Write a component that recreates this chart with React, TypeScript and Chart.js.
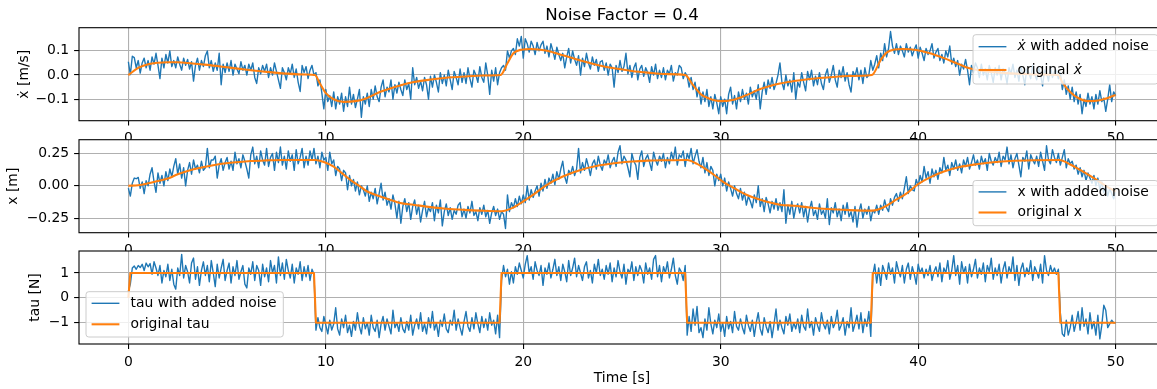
import React, { useEffect, useRef } from 'react';
import { Chart, registerables } from 'chart.js';

Chart.register(...registerables);

// ---------------- data ----------------
const SAMPLE_STEP = 0.1; // seconds between noisy samples
const X_TICKS = [0, 10, 20, 30, 40, 50];
const VEL_TICKS = [-0.1, 0, 0.1];
const POS_TICKS = [-0.25, 0, 0.25];
const TAU_TICKS = [-1, 0, 1];
const MAIN_TITLE = 'Noise Factor = 0.4';

const VEL_NOISY = [
  .055, .002, .078, .072, .03, .06, .008, .05, .07, .03,
  .06, .02, .075, .045, .09, .04, -.015, .07, .03, .085,
  .05, .1, .035, .06, .03, .075, .045, .02, .07, .04,
  .065, .025, .055, -.025, .04, .07, .02, .06, .035, .08,
  .1, .03, .06, .015, .05, .02, .09, -.04, .045, .01,
  .05, .015, .06, 0, .045, .025, .005, .055, .02, .04,
  0, .045, .02, .05, -.01, -.035, .03, .005, .04, .015,
  .045, -.01, .03, 0, .05, .015, -.02, -.055, .03, .01,
  -.02, .03, .005, .045, -.01, .025, -.03, -.068, .04, .01,
  .035, -.015, .02, .04, 0, .01, -.045, -.02, -.075, -.14,
  -.06, -.11, -.085, -.13, -.07, -.14, -.09, -.12, -.075, -.15,
  -.09, -.13, -.05, -.12, -.08, -.135, -.1, -.06, -.175, -.09,
  -.12, -.075, -.13, -.06, -.1, -.045, -.09, -.11, -.05, -.02,
  -.09, -.05, -.07, -.02, -.1, -.04, -.075, -.03, -.06, -.085,
  -.02, -.06, -.035, -.1, .03, -.04, -.01, -.055, -.025, -.065,
  -.01, -.04, -.1, -.005, -.05, 0, -.03, -.07, .01, -.035,
  0, -.045, .02, -.02, -.06, .015, -.01, -.04, .025, -.03,
  .01, -.035, .03, -.015, -.05, .02, 0, -.03, .035, -.01,
  -.03, .05, 0, -.08, .02, -.025, .03, -.04, .01, .03,
  .04, .02, .1, .07, .1, .11, .085, .15, .12, .16,
  .07, .15, .13, .095, .14, .12, .085, .135, .1, .125,
  .14, .09, .12, .075, .13, .1, .065, .115, .085, .06,
  .09, .03, .075, .11, .05, .1, .065, .04, .08, 0,
  .07, .035, .09, .05, .025, .075, .04, .065, .015, .055,
  .06, .02, .05, 0, .045, .03, -.05, .04, .01, .06,
  .015, .035, .09, .005, .04, -.01, .03, .05, -.02, .025,
  .04, -.005, .03, .01, -.03, .035, 0, .045, -.015, .02,
  -.01, .03, -.02, .02, .005, .04, -.025, .01, 0, .04,
  .03, -.015, .01, -.005, -.05, -.01, -.06, -.03, -.09, -.05,
  -.12, -.07, -.11, -.06, -.13, -.09, -.14, -.08, -.115, -.16,
  -.09, -.13, -.1, -.16, -.08, -.05, -.12, -.085, -.14, -.07,
  -.11, -.06, -.1, -.075, -.12, -.05, -.09, -.065, -.1, -.04,
  -.14, -.07, -.03, -.08, -.02, -.055, -.01, -.06, -.035, 0,
  .05, -.03, -.06, 0, -.045, -.02, -.07, .01, -.1, -.03,
  -.05, .01, -.03, -.065, .015, -.02, .02, -.045, -.005, -.04,
  .01, -.035, -.06, 0, .025, -.03, 0, .04, -.02, -.05,
  .02, -.01, .035, -.025, .01, -.04, -.07, .015, -.005, .03,
  -.02, .02, -.035, .03, -.01, 0, .06, .02, .045, .08,
  .03, .09, .06, .13, .075, .11, .18, .12, .09, .13,
  .085, .12, .1, .075, .13, .095, .115, .08, .105, .125,
  .07, .115, .09, .06, .11, .085, .1, .13, .07, .095,
  .11, .06, .085, .05, .1, .075, .12, .045, .07, .035,
  .06, 0, .045, .025, .065, .02, -.04, .04, .01, .05,
  .03, -.01, .045, 0, .025, -.02, .04, .01, -.03, .03,
  0, .04, -.02, .025, .01, -.035, .03, .005, .045, -.01,
  .02, -.025, .035, 0, -.04, .025, .01, -.015, .04, .005,
  -.02, .03, 0, -.045, .02, .01, -.025, .035, -.01, .015,
  .02, -.015, .01, -.06, -.02, -.08, -.045, -.1, -.05, -.11,
  -.07, -.12, -.08, -.16, -.1, -.13, -.075, -.12, -.09, -.14,
  -.08, -.12, -.065, -.11, -.095, -.15, -.1, -.04, -.11, -.07,
  -.085,
];
const VEL_ORIG_T = [0, 0.5, 1, 1.5, 2, 2.5, 3, 4, 5, 6, 7, 8, 9, 9.45, 9.7, 10, 10.4, 10.9, 11.5, 12, 12.8, 13.8, 14.4, 15, 16, 17, 18, 18.85, 19.2, 19.5, 19.9, 20.4, 21.2, 22, 22.9, 23.7, 24.6, 25.5, 26.3, 27.2, 28.2, 28.6, 29, 29.4, 30, 30.6, 31.3, 32, 33, 33.7, 34.5, 35.4, 36.5, 37.65, 38.1, 38.4, 38.8, 39.2, 39.9, 40.6, 41.3, 42, 42.6, 43.5, 44.5, 45.5, 46.3, 47.1, 47.3, 47.7, 48.1, 48.6, 49.2, 50];
const VEL_ORIG = [0, .03, .045, .051, .053, .053, .05, .042, .032, .022, .013, .006, .002, 0, -.035, -.075, -.1, -.111, -.108, -.098, -.068, -.042, -.03, -.022, -.012, -.006, -.002, 0, .049, .09, .105, .108, .101, .082, .06, .043, .028, .017, .01, .004, 0, -.042, -.08, -.097, -.108, -.103, -.083, -.058, -.035, -.025, -.016, -.01, -.004, 0, .062, .093, .106, .108, .104, .09, .07, .047, .028, .015, .008, .004, .002, 0, -.03, -.07, -.095, -.108, -.104, -.083];

const POS_NOISY = [
  -.018, -.08, .02, .06, .055, .065, -.02, .03, -.06, .04,
  0, .09, .14, .03, -.05, .1, .02, .08, 0, .11,
  .04, .13, .07, .15, .21, .09, .17, .06, .14, 0,
  .12, .18, .09, .2, .13, .16, .1, .19, .12, .14,
  .29, .14, .2, .2, .23, .06, .16, .21, .12, .18,
  .22, .13, .19, .12, .26, .17, .21, .14, .24, .19,
  .13, .06, .24, .3, .17, .23, .14, .27, .2, .16,
  .29, .15, .22, .25, .12, .26, .18, .3, .16, .23,
  .13, .27, .19, .24, .12, .28, .17, .22, .29, .14,
  .23, .16, .27, .2, .29, .17, .23, .14, .26, .2,
  .22, .12, .26, .17, .2, .08, .15, .13, .04, .12,
  .1, -.03, .08, 0, .05, -.04, .03, -.07, 0, -.03,
  -.08, 0, -.12, -.05, -.1, -.02, -.14, -.06, .02, -.11,
  -.05, -.15, -.1, -.18, -.07, -.14, -.25, -.12, -.29, -.16,
  -.1, -.2, -.13, -.26, -.16, -.11, -.22, -.15, -.28, -.19,
  -.12, -.24, -.17, -.2, -.13, -.27, -.15, -.21, -.11, -.31,
  -.2, -.14, -.23, -.17, -.26, -.19, -.22, -.15, -.13, -.24,
  -.18, -.25, -.16, -.21, -.12, -.23, -.2, -.27, -.17, -.22,
  -.15, -.24, -.19, -.29, -.21, -.16, -.23, -.18, -.26, -.2,
  -.22, -.33, -.07, -.2, -.13, -.17, -.1, -.16, -.08, -.14,
  -.07, -.13, 0, -.11, -.03, -.09, -.04, 0, -.08, .02,
  -.04, .05, -.02, .06, .02, .09, .01, .11, .05, .13,
  .19, .07, .02, .12, .09, .15, .08, .13, .29, .1,
  .18, .12, .21, .15, .08, .17, .2, .13, .23, .16,
  .12, .2, .17, .24, .14, .19, .22, .15, .26, .31,
  .17, .23, .2, .14, .07, .25, .19, .16, .05, .22,
  .27, .15, .21, .24, .18, .12, .26, .2, .16, .23,
  .19, .25, .14, .22, .17, .26, .2, .3, .16, .24,
  .22, .27, .15, .25, .21, .29, .17, .23, .28, .19,
  .14, .22, .1, .18, .08, .15, .12, 0, .09, .04,
  .09, 0, .06, -.04, .03, -.02, -.08, 0, -.06, -.1,
  -.02, -.11, -.05, -.15, -.08, -.12, -.17, -.07, -.13, 0,
  -.16, -.1, -.2, -.09, -.14, -.21, -.12, -.18, -.1, -.19,
  -.13, -.2, -.03, -.29, -.15, -.22, -.12, -.25, -.17, -.14,
  -.21, -.13, -.24, -.16, -.28, -.18, -.12, -.23, -.19, -.26,
  -.14, -.22, -.19, -.25, -.1, -.3, -.17, -.21, -.13, -.24,
  -.18, -.27, -.15, -.22, -.13, -.24, -.2, -.28, -.16, -.32,
  -.2, -.14, -.25, -.18, -.22, -.16, -.27, -.19, -.21, -.15,
  -.22, -.15, -.19, -.11, -.17, -.2, -.1, -.15, -.09, -.06,
  -.12, -.05, -.1, -.02, .07, -.06, 0, -.03, -.04, .05,
  0, .08, .03, .15, .06, .11, .02, .13, .07, .12,
  .05, .14, .1, .22, .12, .16, .08, .18, .13, .2,
  .12, .17, .1, .2, .15, .22, .13, .18, .24, .16,
  .2, .13, .23, .17, .21, .12, .25, .19, .16, .22,
  .18, .26, .15, .23, .2, .3, .17, .24, .14, .21,
  .25, .16, .07, .22, .19, .27, .13, .24, .2, .17,
  .23, .15, .26, .19, .12, .31, .2, .17, .28, .22,
  .18, .25, .16, .22, .28, .14, .21, .17, .19, .13,
  .16, .09, .14, .07, .12, .04, .1, .06, .02, .08,
  0, .06, -.03, .03, -.05, 0, -.08, -.02, -.06, -.1,
  -.03,
];
const POS_ORIG_T = [0, 0.5, 1, 1.5, 2, 2.5, 3, 3.65, 4.5, 5.3, 6.2, 7, 7.85, 9.45, 9.9, 10.4, 10.8, 11.24, 11.7, 12.1, 12.76, 13.77, 14.43, 15.2, 16.1, 17, 17.8, 18.9, 19.4, 20, 20.6, 21.2, 22, 22.9, 23.7, 24.6, 25.5, 26.3, 27.2, 28.3, 28.8, 29.3, 29.7, 30.1, 30.7, 31.3, 32, 33, 33.7, 34.5, 35.4, 36.5, 37.7, 38.2, 38.75, 39.4, 40, 40.6, 41.3, 42.1, 42.95, 43.8, 44.65, 45.9, 47.15, 47.7, 48.2, 48.9, 49.5, 50];
const POS_ORIG = [0, .005, .02, .038, .056, .09, .115, .14, .165, .18, .192, .197, .2, .2, .185, .149, .1, .046, 0, -.044, -.082, -.133, -.146, -.163, -.177, -.186, -.192, -.197, -.175, -.12, -.058, .008, .072, .123, .153, .174, .188, .195, .198, .2, .17, .123, .08, .033, -.02, -.069, -.108, -.146, -.154, -.168, -.18, -.188, -.192, -.17, -.12, -.06, .013, .065, .11, .145, .167, .182, .192, .198, .2, .165, .123, .059, 0, -.045];

const TAU_NOISY = [
  .26, .55, 1.2, 1.28, 1.15, 1.3, 1.22, 1.35, 1.1, 1.4,
  1.25, 1.38, .95, 1.45, 1.2, .9, 1.3, .6, 1.1, .85,
  1.35, .7, 1.15, .55, .35, 1.2, .9, 1.75, .8, 1.3,
  1.05, .6, 1.4, 1.6, .75, 1.25, .5, 1.1, 1.45, .9,
  1.3, .65, 1.5, 1.0, .45, 1.35, .8, 1.2, 1.55, .7,
  1.1, 1.4, .6, 1.25, .9, 1.5, .75, 1.05, 1.3, .55,
  .4, 1.2, .95, 1.45, .7, 1.3, 1.1, .5, 1.35, .85,
  1.2, .65, 1.5, 1.0, 1.3, .6, 1.65, .9, 1.4, .75,
  1.55, 1.1, .8, 1.35, .6, 1.2, .95, 1.45, .7, 1.25,
  .85, 1.3, .7, 1.15, .95, -1.3, -.8, -1.2, -1.35, -.75,
  -1.1, -1.45, -.9, -1.3, -1.05, -.4, -1.25, -1.5, -.85, -1.2,
  -.7, -1.4, -1.1, -1.55, -.95, -1.3, -.6, -1.15, -1.45, -.8,
  -1.25, -1.0, -1.5, -.7, -1.2, -1.35, -.9, -1.6, -1.05, -.75,
  -1.3, -.85, -1.15, -1.45, -.5, -1.2, -1.0, -1.35, -.8, -1.25,
  -1.4, -.95, -1.3, -.7, -1.5, -1.1, -.85, -1.25, -.6, -1.35,
  -1.05, -1.45, -.8, -1.2, -.55, -1.3, -1.0, -1.55, -.9, -1.15,
  -.65, -1.25, -1.4, -.9, -1.1, -.5, -1.3, -.85, -1.2, -1.5,
  -.95, -.55, -1.15, -1.35, -.8, -1.25, -.6, -1.05, -1.4, -.75,
  -1.2, -.85, -1.3, -.6, -1.1, -.9, -1.45, -.7, -1.6, .7,
  1.3, .85, 1.15, .55, 1.05, .6, 1.25, .95, 1.4, 1.1,
  .8, 1.35, 1.7, 1.0, 1.25, .75, 1.45, 1.1, .9, 1.3,
  .5, 1.2, .95, 1.4, .8, 1.15, 1.55, .9, 1.25, .7,
  1.35, 1.05, .65, 1.5, .9, 1.2, 1.6, .85, 1.3, 1.0,
  .7, 1.25, 1.45, .8, 1.1, .6, 1.35, 1.0, 1.55, .9,
  1.15, .75, 1.3, .95, 1.4, .65, 1.2, .85, 1.5, 1.05,
  .8, 1.35, .55, 1.15, 1.0, 1.45, .7, 1.25, .9, 1.3,
  1.1, .6, 1.4, .95, 1.2, .75, 1.55, 1.7, .85, 1.3,
  .65, 1.25, 1.0, 1.45, .8, 1.15, 1.6, .9, .55, 1.2,
  1.05, .7, 1.3, -1.5, -.75, -1.35, -.45, -1.1, -.35, -1.4,
  -1.2, -1.6, -.85, -1.3, -.4, -1.05, -1.45, -.9, -1.2, -.65,
  -1.35, -1.0, -1.55, -.75, -1.25, -.95, -1.4, -.55, -1.15, -1.3,
  -.85, -1.2, -1.45, -.7, -1.1, -1.35, -.9, -1.55, -1.0, -.6,
  -1.25, -1.5, -.8, -1.15, -1.4, -.95, -1.6, -1.05, -.45, -1.3,
  -.9, -1.2, -1.45, -.75, -1.1, -.65, -1.35, -1.0, -1.25, -.85,
  -1.4, -.7, -1.15, -1.3, -.45, -1.2, -.95, -1.5, -.8, -1.1,
  -1.35, -.6, -1.05, -1.25, -.9, -1.45, -.75, -1.2, -1.0, -.5,
  -1.3, -1.1, -.8, -1.5, -.95, -1.2, -.4, -1.35, -1.05, -.7,
  -1.25, -.6, -1.4, -.85, -1.15, -.55, -1.55, .9, 1.35, .6,
  1.2, .5, 1.3, 1.05, .75, 1.4, .95, 1.2, .6, 1.45,
  1.1, .85, 1.3, .6, 1.15, 1.4, .75, 1.25, .95, .55,
  1.35, 1.0, 1.2, .8, 1.15, .9, 1.3, .7, 1.05, 1.25,
  .85, 1.4, .65, 1.2, 1.0, 1.5, .75, 1.1, 1.7, .9,
  1.3, .55, 1.45, 1.0, 1.25, .6, 1.35, .85, 1.15, 1.55,
  .8, 1.2, .95, 1.4, .65, 1.3, 1.05, 1.6, .75, 1.2,
  .9, 1.35, .6, 1.15, 1.45, .8, 1.25, 1.0, 1.65, .7,
  1.3, .5, 1.15, 1.4, .85, 1.2, .95, 1.5, .7, 1.25,
  1.05, .8, 1.35, .6, 1.7, 1.1, .9, 1.3, 1.0, 1.2,
  .95, 1.15, -.6, -1.45, -1.55, -.9, -1.5, -1.2, -.7, -1.35,
  -1.0, -.55, -1.3, -.4, -1.15, -.85, -1.45, -.6, -1.25, -.95,
  -1.5, -.7, -1.65, -1.1, -.3, -.5, -1.2, -1.05, -.9, -1.0,
  -1.0,
];
const TAU_ORIG_T = [0, 0.1, 9.4, 9.5, 18.8, 18.9, 28.2, 28.3, 37.6, 37.7, 47.1, 47.2, 50];
const TAU_ORIG = [0, 1, 1, -1, -1, 1, 1, -1, -1, 1, 1, -1, -1];

// ---------------- style ----------------
const FONT = 'DejaVu Sans';
const FS = 13.9;
const BLUE = '#1f77b4';
const ORANGE = '#ff7f0e';
const CANVAS_W = 1170;
const CANVAS_H = 389;

type Seg = { text: string; italic?: boolean };
type LegendRow = { color: string; width: number; segs: Seg[]; y: number };
type Panel = {
  noisy: number[];
  origT: number[];
  orig: number[];
  smooth: boolean;
  noisyLabel: string;
  origLabel: string;
  top: number;
  bottom: number;
  xAxisH: number;
  yMin: number;
  yMax: number;
  yTicks: number[];
  decimals: number;
  yTitle: string;
  yTitlePad: number;
  xTitle?: string;
  mainTitle?: string;
  legend: { l: number; t: number; r: number; b: number; rows: LegendRow[] };
};

const X_DOT = '\u1E8B';

const PANELS: Panel[] = [
  {
    noisy: VEL_NOISY, origT: VEL_ORIG_T, orig: VEL_ORIG, smooth: true,
    noisyLabel: X_DOT + ' with added noise', origLabel: 'original ' + X_DOT,
    top: 27.7, bottom: 120.7, xAxisH: 24,
    yMin: -0.189, yMax: 0.196, yTicks: VEL_TICKS, decimals: 1,
    yTitle: X_DOT + ' [m/s]', yTitlePad: 15.7, mainTitle: MAIN_TITLE,
    legend: {
      l: 973, t: 34.7, r: 1158, b: 84,
      rows: [
        { color: BLUE, width: 1.39, y: 46.7, segs: [{ text: X_DOT, italic: true }, { text: ' with added noise' }] },
        { color: ORANGE, width: 2.08, y: 70, segs: [{ text: 'original ' }, { text: X_DOT, italic: true }] },
      ],
    },
  },
  {
    noisy: POS_NOISY, origT: POS_ORIG_T, orig: POS_ORIG, smooth: true,
    noisyLabel: 'x with added noise', origLabel: 'original x',
    top: 139.7, bottom: 232.7, xAxisH: 24,
    yMin: -0.363, yMax: 0.357, yTicks: POS_TICKS, decimals: 2,
    yTitle: 'x [m]', yTitlePad: 4.7,
    legend: {
      l: 973, t: 180.5, r: 1158, b: 225.7,
      rows: [
        { color: BLUE, width: 1.39, y: 191.9, segs: [{ text: 'x with added noise' }] },
        { color: ORANGE, width: 2.08, y: 212.5, segs: [{ text: 'original x' }] },
      ],
    },
  },
  {
    noisy: TAU_NOISY, origT: TAU_ORIG_T, orig: TAU_ORIG, smooth: false,
    noisyLabel: 'tau with added noise', origLabel: 'original tau',
    top: 251, bottom: 344, xAxisH: 45,
    yMin: -1.857, yMax: 1.885, yTicks: TAU_TICKS, decimals: 0,
    yTitle: 'tau [N]', yTitlePad: 27, xTitle: 'Time [s]',
    legend: {
      l: 86, t: 291.7, r: 283.3, b: 337,
      rows: [
        { color: BLUE, width: 1.39, y: 303.3, segs: [{ text: 'tau with added noise' }] },
        { color: ORANGE, width: 2.08, y: 324.3, segs: [{ text: 'original tau' }] },
      ],
    },
  },
];

function fmt(v: number, dec: number) {
  const s = Math.abs(v) < 1e-9 ? (0).toFixed(dec) : v.toFixed(dec);
  return s.replace('-', '\u2212');
}

function roundRect(ctx: CanvasRenderingContext2D, x: number, y: number, w: number, h: number, r: number) {
  ctx.beginPath();
  ctx.moveTo(x + r, y);
  ctx.lineTo(x + w - r, y);
  ctx.arcTo(x + w, y, x + w, y + r, r);
  ctx.lineTo(x + w, y + h - r);
  ctx.arcTo(x + w, y + h, x + w - r, y + h, r);
  ctx.lineTo(x + r, y + h);
  ctx.arcTo(x, y + h, x, y + h - r, r);
  ctx.lineTo(x, y + r);
  ctx.arcTo(x, y, x + r, y, r);
  ctx.closePath();
}

function decoPlugin(p: Panel) {
  return {
    id: 'panelDeco',
    beforeDraw(chart: any) {
      const { ctx, chartArea: a } = chart;
      ctx.save();
      ctx.fillStyle = '#ffffff';
      ctx.fillRect(a.left, a.top, a.right - a.left, a.bottom - a.top);
      ctx.restore();
    },
    afterDraw(chart: any) {
      const { ctx, chartArea: a } = chart;
      ctx.save();
      // axes frame
      ctx.strokeStyle = '#000';
      ctx.lineWidth = 1.1;
      ctx.strokeRect(a.left, a.top, a.right - a.left, a.bottom - a.top);
      // legend
      const L = p.legend;
      roundRect(ctx, L.l, L.t, L.r - L.l, L.b - L.t, 2.8);
      ctx.fillStyle = 'rgba(255,255,255,0.8)';
      ctx.fill();
      ctx.strokeStyle = '#cccccc';
      ctx.lineWidth = 1;
      ctx.stroke();
      ctx.textBaseline = 'middle';
      ctx.textAlign = 'left';
      for (const row of L.rows) {
        ctx.beginPath();
        ctx.moveTo(L.l + 5.6, row.y);
        ctx.lineTo(L.l + 33.4, row.y);
        ctx.strokeStyle = row.color;
        ctx.lineWidth = row.width;
        ctx.stroke();
        let x = L.l + 44.5;
        ctx.fillStyle = '#000';
        for (const s of row.segs) {
          ctx.font = `${s.italic ? 'italic ' : ''}${FS}px "${FONT}"`;
          ctx.fillText(s.text, x, row.y);
          x += ctx.measureText(s.text).width;
        }
      }
      if (p.mainTitle) {
        ctx.font = `16.67px "${FONT}"`;
        ctx.textAlign = 'center';
        ctx.textBaseline = 'alphabetic';
        ctx.fillStyle = '#000';
        ctx.fillText(p.mainTitle, (a.left + a.right) / 2, 20.3);
      }
      ctx.restore();
    },
  };
}

function makeChart(canvas: HTMLCanvasElement, p: Panel) {
  const noisyPts = p.noisy.map((v, i) => ({ x: i * SAMPLE_STEP, y: v }));
  const origPts = p.orig.map((v, i) => ({ x: p.origT[i], y: v }));
  const tickFont = { family: FONT, size: FS };
  const grid = {
    color: '#b0b0b0',
    lineWidth: 1.1,
    drawTicks: true,
    tickLength: 4.9,
    tickColor: '#000',
    tickWidth: 1.1,
  };
  return new Chart(canvas, {
    type: 'line',
    data: {
      datasets: [
        {
          label: p.noisyLabel,
          data: noisyPts,
          borderColor: BLUE,
          backgroundColor: BLUE,
          borderWidth: 1.39,
          pointRadius: 0,
          tension: 0,
          borderJoinStyle: 'round',
          order: 2,
        },
        {
          label: p.origLabel,
          data: origPts,
          borderColor: ORANGE,
          backgroundColor: ORANGE,
          borderWidth: 2.08,
          pointRadius: 0,
          tension: 0,
          cubicInterpolationMode: p.smooth ? 'monotone' : 'default',
          borderJoinStyle: 'round',
          order: 1,
        },
      ],
    } as any,
    options: {
      responsive: false,
      maintainAspectRatio: false,
      animation: false,
      events: [],
      layout: {
        padding: { left: 0, right: 5, top: p.top, bottom: CANVAS_H - p.bottom - p.xAxisH },
      },
      scales: {
        x: {
          type: 'linear',
          min: -2.5,
          max: 52.5,
          afterBuildTicks: (s: any) => { s.ticks = X_TICKS.map((v) => ({ value: v })); },
          afterFit: (s: any) => { s.height = p.xAxisH; },
          grid,
          border: { display: false },
          ticks: {
            autoSkip: false,
            maxRotation: 0,
            color: '#000',
            font: tickFont,
            padding: 4.9,
            callback: (v: any) => fmt(Number(v), 0),
          },
          title: p.xTitle
            ? { display: true, text: p.xTitle, color: '#000', font: tickFont, padding: { top: 0, bottom: 2 } }
            : { display: false },
        },
        y: {
          type: 'linear',
          min: p.yMin,
          max: p.yMax,
          afterBuildTicks: (s: any) => { s.ticks = p.yTicks.map((v) => ({ value: v })); },
          afterFit: (s: any) => { s.width = 79; },
          grid,
          border: { display: false },
          ticks: {
            autoSkip: false,
            color: '#000',
            font: tickFont,
            padding: 4.9,
            callback: (v: any) => fmt(Number(v), p.decimals),
          },
          title: { display: true, text: p.yTitle, color: '#000', font: tickFont, padding: { top: p.yTitlePad, bottom: 0 } },
        },
      },
      plugins: {
        legend: { display: false },
        tooltip: { enabled: false },
        title: { display: false },
      },
    } as any,
    plugins: [decoPlugin(p)],
  });
}

export default function App() {
  const refs = useRef<(HTMLCanvasElement | null)[]>([]);
  useEffect(() => {
    Chart.defaults.font.family = FONT;
    const charts = PANELS.map((p, i) => makeChart(refs.current[i] as HTMLCanvasElement, p));
    return () => charts.forEach((c) => c.destroy());
  }, []);
  return (
    <div
      style={{
        position: 'fixed',
        left: 0,
        top: 0,
        width: 1157,
        height: 389,
        overflow: 'hidden',
        background: '#ffffff',
      }}
    >
      {PANELS.map((p, i) => (
        <canvas
          key={i}
          ref={(el) => { refs.current[i] = el; }}
          width={CANVAS_W}
          height={CANVAS_H}
          style={{ position: 'absolute', left: 0, top: 0, width: CANVAS_W, height: CANVAS_H }}
        />
      ))}
    </div>
  );
}
